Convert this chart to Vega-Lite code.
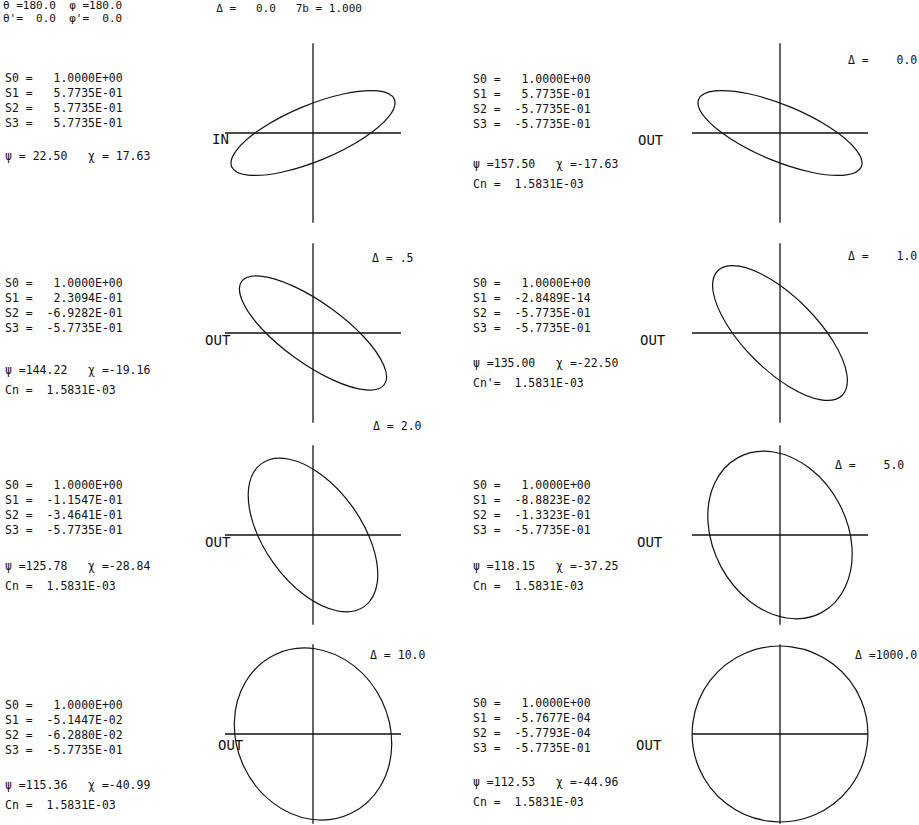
{
  "$schema": "https://vega.github.io/schema/vega-lite/v6.json",
  "background": "white",
  "padding": 0,
  "columns": 2,
  "spacing": {"row": 0, "column": 15},
  "align": "each",
  "bounds": "flush",
  "resolve": {"scale": {"x": "independent", "y": "independent"}},
  "config": {
    "view": {"stroke": null},
    "line": {"stroke": "#111", "strokeWidth": 1.2},
    "rule": {"stroke": "#111", "strokeWidth": 1.3},
    "text": {"font": "DejaVu Sans Mono", "fontSize": 11.5, "color": "#111", "align": "left", "baseline": "alphabetic", "lineBreak": "\n"}
  },
  "datasets": {
    "head": [
      {"angles": "θ\u00a0=180.0\u00a0\u00a0φ\u00a0=180.0\nθ'=\u00a0\u00a00.0\u00a0\u00a0φ'=\u00a0\u00a00.0", "params": "Δ\u00a0=\u00a0\u00a0\u00a00.0\u00a0\u00a0\u00a07b\u00a0=\u00a01.000"}
    ],
    "panels": [
      {"p": 1, "stokes": "S0\u00a0=\u00a0\u00a0\u00a01.0000E+00\nS1\u00a0=\u00a0\u00a0\u00a05.7735E-01\nS2\u00a0=\u00a0\u00a0\u00a05.7735E-01\nS3\u00a0=\u00a0\u00a0\u00a05.7735E-01", "psi": "ψ\u00a0=\u00a022.50\u00a0\u00a0\u00a0χ\u00a0=\u00a017.63", "io": "IN", "delta": ""},
      {"p": 2, "stokes": "S0\u00a0=\u00a0\u00a0\u00a01.0000E+00\nS1\u00a0=\u00a0\u00a0\u00a05.7735E-01\nS2\u00a0=\u00a0\u00a0-5.7735E-01\nS3\u00a0=\u00a0\u00a0-5.7735E-01", "psi": "ψ\u00a0=157.50\u00a0\u00a0\u00a0χ\u00a0=-17.63\nCn\u00a0=\u00a0\u00a01.5831E-03", "io": "OUT", "delta": "Δ\u00a0=\u00a0\u00a0\u00a0\u00a00.0"},
      {"p": 3, "stokes": "S0\u00a0=\u00a0\u00a0\u00a01.0000E+00\nS1\u00a0=\u00a0\u00a0\u00a02.3094E-01\nS2\u00a0=\u00a0\u00a0-6.9282E-01\nS3\u00a0=\u00a0\u00a0-5.7735E-01", "psi": "ψ\u00a0=144.22\u00a0\u00a0\u00a0χ\u00a0=-19.16\nCn\u00a0=\u00a0\u00a01.5831E-03", "io": "OUT", "delta": "Δ\u00a0=\u00a0.5"},
      {"p": 4, "stokes": "S0\u00a0=\u00a0\u00a0\u00a01.0000E+00\nS1\u00a0=\u00a0\u00a0-2.8489E-14\nS2\u00a0=\u00a0\u00a0-5.7735E-01\nS3\u00a0=\u00a0\u00a0-5.7735E-01", "psi": "ψ\u00a0=135.00\u00a0\u00a0\u00a0χ\u00a0=-22.50\nCn'=\u00a0\u00a01.5831E-03", "io": "OUT", "delta": "Δ\u00a0=\u00a0\u00a0\u00a0\u00a01.0"},
      {"p": 5, "stokes": "S0\u00a0=\u00a0\u00a0\u00a01.0000E+00\nS1\u00a0=\u00a0\u00a0-1.1547E-01\nS2\u00a0=\u00a0\u00a0-3.4641E-01\nS3\u00a0=\u00a0\u00a0-5.7735E-01", "psi": "ψ\u00a0=125.78\u00a0\u00a0\u00a0χ\u00a0=-28.84\nCn\u00a0=\u00a0\u00a01.5831E-03", "io": "OUT", "delta": "Δ\u00a0=\u00a02.0"},
      {"p": 6, "stokes": "S0\u00a0=\u00a0\u00a0\u00a01.0000E+00\nS1\u00a0=\u00a0\u00a0-8.8823E-02\nS2\u00a0=\u00a0\u00a0-1.3323E-01\nS3\u00a0=\u00a0\u00a0-5.7735E-01", "psi": "ψ\u00a0=118.15\u00a0\u00a0\u00a0χ\u00a0=-37.25\nCn\u00a0=\u00a0\u00a01.5831E-03", "io": "OUT", "delta": "Δ\u00a0=\u00a0\u00a0\u00a0\u00a05.0"},
      {"p": 7, "stokes": "S0\u00a0=\u00a0\u00a0\u00a01.0000E+00\nS1\u00a0=\u00a0\u00a0-5.1447E-02\nS2\u00a0=\u00a0\u00a0-6.2880E-02\nS3\u00a0=\u00a0\u00a0-5.7735E-01", "psi": "ψ\u00a0=115.36\u00a0\u00a0\u00a0χ\u00a0=-40.99\nCn\u00a0=\u00a0\u00a01.5831E-03", "io": "OUT", "delta": "Δ\u00a0=\u00a010.0"},
      {"p": 8, "stokes": "S0\u00a0=\u00a0\u00a0\u00a01.0000E+00\nS1\u00a0=\u00a0\u00a0-5.7677E-04\nS2\u00a0=\u00a0\u00a0-5.7793E-04\nS3\u00a0=\u00a0\u00a0-5.7735E-01", "psi": "ψ\u00a0=112.53\u00a0\u00a0\u00a0χ\u00a0=-44.96\nCn\u00a0=\u00a0\u00a01.5831E-03", "io": "OUT", "delta": "Δ\u00a0=1000.0"}
    ],
    "ellipse": [
      {"p":1,"i":0,"x":0.924,"y":0.383},{"p":1,"i":1,"x":0.739,"y":0.478},{"p":1,"i":2,"x":0.357,"y":0.446},{"p":1,"i":3,"x":-0.122,"y":0.294},
      {"p":1,"i":4,"x":-0.567,"y":0.063},{"p":1,"i":5,"x":-0.861,"y":-0.185},{"p":1,"i":6,"x":-0.924,"y":-0.383},{"p":1,"i":7,"x":-0.739,"y":-0.478},
      {"p":1,"i":8,"x":-0.357,"y":-0.446},{"p":1,"i":9,"x":0.122,"y":-0.294},{"p":1,"i":10,"x":0.567,"y":-0.063},{"p":1,"i":11,"x":0.861,"y":0.185},

      {"p":2,"i":0,"x":-0.924,"y":0.383},{"p":2,"i":1,"x":-0.861,"y":0.185},{"p":2,"i":2,"x":-0.567,"y":-0.063},{"p":2,"i":3,"x":-0.122,"y":-0.294},
      {"p":2,"i":4,"x":0.357,"y":-0.446},{"p":2,"i":5,"x":0.739,"y":-0.478},{"p":2,"i":6,"x":0.924,"y":-0.383},{"p":2,"i":7,"x":0.861,"y":-0.185},
      {"p":2,"i":8,"x":0.567,"y":0.063},{"p":2,"i":9,"x":0.122,"y":0.294},{"p":2,"i":10,"x":-0.357,"y":0.446},{"p":2,"i":11,"x":-0.739,"y":0.478},

      {"p":3,"i":0,"x":-0.811,"y":0.585},{"p":3,"i":1,"x":-0.804,"y":0.366},{"p":3,"i":2,"x":-0.582,"y":0.048},{"p":3,"i":3,"x":-0.203,"y":-0.282},
      {"p":3,"i":4,"x":0.230,"y":-0.536},{"p":3,"i":5,"x":0.601,"y":-0.647},{"p":3,"i":6,"x":0.811,"y":-0.585},{"p":3,"i":7,"x":0.804,"y":-0.366},
      {"p":3,"i":8,"x":0.582,"y":-0.048},{"p":3,"i":9,"x":0.203,"y":0.282},{"p":3,"i":10,"x":-0.230,"y":0.536},{"p":3,"i":11,"x":-0.601,"y":0.647},

      {"p":4,"i":0,"x":-0.707,"y":0.707},{"p":4,"i":1,"x":-0.759,"y":0.466},{"p":4,"i":2,"x":-0.607,"y":0.100},{"p":4,"i":3,"x":-0.293,"y":-0.293},
      {"p":4,"i":4,"x":0.100,"y":-0.607},{"p":4,"i":5,"x":0.466,"y":-0.759},{"p":4,"i":6,"x":0.707,"y":-0.707},{"p":4,"i":7,"x":0.759,"y":-0.466},
      {"p":4,"i":8,"x":0.607,"y":-0.100},{"p":4,"i":9,"x":0.293,"y":0.293},{"p":4,"i":10,"x":-0.100,"y":0.607},{"p":4,"i":11,"x":-0.466,"y":0.759},

      {"p":5,"i":0,"x":-0.585,"y":0.811},{"p":5,"i":1,"x":-0.730,"y":0.542},{"p":5,"i":2,"x":-0.679,"y":0.127},{"p":5,"i":3,"x":-0.447,"y":-0.322},
      {"p":5,"i":4,"x":-0.095,"y":-0.685},{"p":5,"i":5,"x":0.283,"y":-0.864},{"p":5,"i":6,"x":0.585,"y":-0.811},{"p":5,"i":7,"x":0.730,"y":-0.542},
      {"p":5,"i":8,"x":0.679,"y":-0.127},{"p":5,"i":9,"x":0.447,"y":0.322},{"p":5,"i":10,"x":0.095,"y":0.685},{"p":5,"i":11,"x":-0.283,"y":0.864},

      {"p":6,"i":0,"x":-0.472,"y":0.882},{"p":6,"i":1,"x":-0.744,"y":0.584},{"p":6,"i":2,"x":-0.817,"y":0.130},{"p":6,"i":3,"x":-0.671,"y":-0.359},
      {"p":6,"i":4,"x":-0.345,"y":-0.752},{"p":6,"i":5,"x":0.073,"y":-0.943},{"p":6,"i":6,"x":0.472,"y":-0.882},{"p":6,"i":7,"x":0.744,"y":-0.584},
      {"p":6,"i":8,"x":0.817,"y":-0.130},{"p":6,"i":9,"x":0.671,"y":0.359},{"p":6,"i":10,"x":0.345,"y":0.752},{"p":6,"i":11,"x":-0.073,"y":0.943},

      {"p":7,"i":0,"x":-0.428,"y":0.904},{"p":7,"i":1,"x":-0.764,"y":0.596},{"p":7,"i":2,"x":-0.894,"y":0.130},{"p":7,"i":3,"x":-0.785,"y":-0.372},
      {"p":7,"i":4,"x":-0.466,"y":-0.774},{"p":7,"i":5,"x":-0.022,"y":-0.969},{"p":7,"i":6,"x":0.428,"y":-0.904},{"p":7,"i":7,"x":0.764,"y":-0.596},
      {"p":7,"i":8,"x":0.894,"y":-0.130},{"p":7,"i":9,"x":0.785,"y":0.372},{"p":7,"i":10,"x":0.466,"y":0.774},{"p":7,"i":11,"x":0.022,"y":0.969},

      {"p":8,"i":0,"x":-0.383,"y":0.924},{"p":8,"i":1,"x":-0.793,"y":0.609},{"p":8,"i":2,"x":-0.990,"y":0.130},{"p":8,"i":3,"x":-0.922,"y":-0.383},
      {"p":8,"i":4,"x":-0.607,"y":-0.793},{"p":8,"i":5,"x":-0.129,"y":-0.991},{"p":8,"i":6,"x":0.383,"y":-0.924},{"p":8,"i":7,"x":0.793,"y":-0.609},
      {"p":8,"i":8,"x":0.990,"y":-0.130},{"p":8,"i":9,"x":0.922,"y":0.383},{"p":8,"i":10,"x":0.607,"y":0.793},{"p":8,"i":11,"x":0.129,"y":0.991}
    ]
  },
  "concat": [
    {
      "width": 452, "height": 233,
      "layer": [
        {"data": {"name": "ellipse"}, "transform": [{"filter": "datum.p == 1"}],
         "mark": {"type": "line", "interpolate": "cardinal-closed"},
         "encoding": {
           "x": {"field": "x", "type": "quantitative", "scale": {"domain": [-3.5568, 1.5795], "nice": false, "zero": false}, "axis": null},
           "y": {"field": "y", "type": "quantitative", "scale": {"domain": [-1.1364, 1.5114], "nice": false, "zero": false}, "axis": null},
           "order": {"field": "i", "type": "quantitative"}}},
        {"data": {"values": [{}]}, "mark": "rule", "encoding": {"x": {"datum": -1}, "x2": {"datum": 1}, "y": {"datum": 0}}},
        {"data": {"values": [{}]}, "mark": "rule", "encoding": {"x": {"datum": 0}, "y": {"datum": -1.02}, "y2": {"datum": 1.02}}},
        {"data": {"name": "panels"}, "transform": [{"filter": "datum.p == 1"}], "mark": {"type": "text", "lineHeight": 15},
         "encoding": {"x": {"datum": -3.5}, "y": {"datum": 0.58}, "text": {"field": "stokes"}}},
        {"data": {"name": "panels"}, "transform": [{"filter": "datum.p == 1"}], "mark": {"type": "text", "lineHeight": 20},
         "encoding": {"x": {"datum": -3.5}, "y": {"datum": -0.309}, "text": {"field": "psi"}}},
        {"data": {"name": "panels"}, "transform": [{"filter": "datum.p == 1"}], "mark": {"type": "text", "fontSize": 14},
         "encoding": {"x": {"datum": -1.148}, "y": {"datum": -0.125}, "text": {"field": "io"}}},
        {"data": {"name": "head"}, "mark": {"type": "text", "fontSize": 11, "lineHeight": 13},
         "encoding": {"x": {"datum": -3.523}, "y": {"datum": 1.409}, "text": {"field": "angles"}}},
        {"data": {"name": "head"}, "mark": {"type": "text", "fontSize": 11},
         "encoding": {"x": {"datum": -1.1}, "y": {"datum": 1.37}, "text": {"field": "params"}}}
      ]
    },
    {
      "width": 452, "height": 233,
      "layer": [
        {"data": {"name": "ellipse"}, "transform": [{"filter": "datum.p == 2"}],
         "mark": {"type": "line", "interpolate": "cardinal-closed"},
         "encoding": {
           "x": {"field": "x", "type": "quantitative", "scale": {"domain": [-3.5568, 1.5795], "nice": false, "zero": false}, "axis": null},
           "y": {"field": "y", "type": "quantitative", "scale": {"domain": [-1.1364, 1.5114], "nice": false, "zero": false}, "axis": null},
           "order": {"field": "i", "type": "quantitative"}}},
        {"data": {"values": [{}]}, "mark": "rule", "encoding": {"x": {"datum": -1}, "x2": {"datum": 1}, "y": {"datum": 0}}},
        {"data": {"values": [{}]}, "mark": "rule", "encoding": {"x": {"datum": 0}, "y": {"datum": -1.02}, "y2": {"datum": 1.02}}},
        {"data": {"name": "panels"}, "transform": [{"filter": "datum.p == 2"}], "mark": {"type": "text", "lineHeight": 15},
         "encoding": {"x": {"datum": -3.489}, "y": {"datum": 0.57}, "text": {"field": "stokes"}}},
        {"data": {"name": "panels"}, "transform": [{"filter": "datum.p == 2"}], "mark": {"type": "text", "lineHeight": 20},
         "encoding": {"x": {"datum": -3.489}, "y": {"datum": -0.4}, "text": {"field": "psi"}}},
        {"data": {"name": "panels"}, "transform": [{"filter": "datum.p == 2"}], "mark": {"type": "text", "fontSize": 14},
         "encoding": {"x": {"datum": -1.614}, "y": {"datum": -0.136}, "text": {"field": "io"}}},
        {"data": {"name": "panels"}, "transform": [{"filter": "datum.p == 2"}], "mark": {"type": "text"},
         "encoding": {"x": {"datum": 0.773}, "y": {"datum": 0.782}, "text": {"field": "delta"}}}
      ]
    },
    {
      "width": 452, "height": 200,
      "layer": [
        {"data": {"name": "ellipse"}, "transform": [{"filter": "datum.p == 3"}],
         "mark": {"type": "line", "interpolate": "cardinal-closed"},
         "encoding": {
           "x": {"field": "x", "type": "quantitative", "scale": {"domain": [-3.5568, 1.5795], "nice": false, "zero": false}, "axis": null},
           "y": {"field": "y", "type": "quantitative", "scale": {"domain": [-1.1364, 1.1364], "nice": false, "zero": false}, "axis": null},
           "order": {"field": "i", "type": "quantitative"}}},
        {"data": {"values": [{}]}, "mark": "rule", "encoding": {"x": {"datum": -1}, "x2": {"datum": 1}, "y": {"datum": 0}}},
        {"data": {"values": [{}]}, "mark": "rule", "encoding": {"x": {"datum": 0}, "y": {"datum": -1.02}, "y2": {"datum": 1.02}}},
        {"data": {"name": "panels"}, "transform": [{"filter": "datum.p == 3"}], "mark": {"type": "text", "lineHeight": 15},
         "encoding": {"x": {"datum": -3.5}, "y": {"datum": 0.52}, "text": {"field": "stokes"}}},
        {"data": {"name": "panels"}, "transform": [{"filter": "datum.p == 3"}], "mark": {"type": "text", "lineHeight": 20},
         "encoding": {"x": {"datum": -3.5}, "y": {"datum": -0.468}, "text": {"field": "psi"}}},
        {"data": {"name": "panels"}, "transform": [{"filter": "datum.p == 3"}], "mark": {"type": "text", "fontSize": 14},
         "encoding": {"x": {"datum": -1.227}, "y": {"datum": -0.136}, "text": {"field": "io"}}},
        {"data": {"name": "panels"}, "transform": [{"filter": "datum.p == 3"}], "mark": {"type": "text"},
         "encoding": {"x": {"datum": 0.67}, "y": {"datum": 0.805}, "text": {"field": "delta"}}}
      ]
    },
    {
      "width": 452, "height": 200,
      "layer": [
        {"data": {"name": "ellipse"}, "transform": [{"filter": "datum.p == 4"}],
         "mark": {"type": "line", "interpolate": "cardinal-closed"},
         "encoding": {
           "x": {"field": "x", "type": "quantitative", "scale": {"domain": [-3.5568, 1.5795], "nice": false, "zero": false}, "axis": null},
           "y": {"field": "y", "type": "quantitative", "scale": {"domain": [-1.1364, 1.1364], "nice": false, "zero": false}, "axis": null},
           "order": {"field": "i", "type": "quantitative"}}},
        {"data": {"values": [{}]}, "mark": "rule", "encoding": {"x": {"datum": -1}, "x2": {"datum": 1}, "y": {"datum": 0}}},
        {"data": {"values": [{}]}, "mark": "rule", "encoding": {"x": {"datum": 0}, "y": {"datum": -1.02}, "y2": {"datum": 1.02}}},
        {"data": {"name": "panels"}, "transform": [{"filter": "datum.p == 4"}], "mark": {"type": "text", "lineHeight": 15},
         "encoding": {"x": {"datum": -3.489}, "y": {"datum": 0.52}, "text": {"field": "stokes"}}},
        {"data": {"name": "panels"}, "transform": [{"filter": "datum.p == 4"}], "mark": {"type": "text", "lineHeight": 20},
         "encoding": {"x": {"datum": -3.489}, "y": {"datum": -0.389}, "text": {"field": "psi"}}},
        {"data": {"name": "panels"}, "transform": [{"filter": "datum.p == 4"}], "mark": {"type": "text", "fontSize": 14},
         "encoding": {"x": {"datum": -1.591}, "y": {"datum": -0.136}, "text": {"field": "io"}}},
        {"data": {"name": "panels"}, "transform": [{"filter": "datum.p == 4"}], "mark": {"type": "text"},
         "encoding": {"x": {"datum": 0.773}, "y": {"datum": 0.827}, "text": {"field": "delta"}}}
      ]
    },
    {
      "width": 452, "height": 201,
      "layer": [
        {"data": {"name": "ellipse"}, "transform": [{"filter": "datum.p == 5"}],
         "mark": {"type": "line", "interpolate": "cardinal-closed"},
         "encoding": {
           "x": {"field": "x", "type": "quantitative", "scale": {"domain": [-3.5568, 1.5795], "nice": false, "zero": false}, "axis": null},
           "y": {"field": "y", "type": "quantitative", "scale": {"domain": [-1.125, 1.1591], "nice": false, "zero": false}, "axis": null},
           "order": {"field": "i", "type": "quantitative"}}},
        {"data": {"values": [{}]}, "mark": "rule", "encoding": {"x": {"datum": -1}, "x2": {"datum": 1}, "y": {"datum": 0}}},
        {"data": {"values": [{}]}, "mark": "rule", "encoding": {"x": {"datum": 0}, "y": {"datum": -1.02}, "y2": {"datum": 1.02}}},
        {"data": {"name": "panels"}, "transform": [{"filter": "datum.p == 5"}], "mark": {"type": "text", "lineHeight": 15},
         "encoding": {"x": {"datum": -3.5}, "y": {"datum": 0.52}, "text": {"field": "stokes"}}},
        {"data": {"name": "panels"}, "transform": [{"filter": "datum.p == 5"}], "mark": {"type": "text", "lineHeight": 20},
         "encoding": {"x": {"datum": -3.5}, "y": {"datum": -0.4}, "text": {"field": "psi"}}},
        {"data": {"name": "panels"}, "transform": [{"filter": "datum.p == 5"}], "mark": {"type": "text", "fontSize": 14},
         "encoding": {"x": {"datum": -1.227}, "y": {"datum": -0.136}, "text": {"field": "io"}}},
        {"data": {"name": "panels"}, "transform": [{"filter": "datum.p == 5"}], "mark": {"type": "text"},
         "encoding": {"x": {"datum": 0.682}, "y": {"datum": 1.191}, "text": {"field": "delta"}}}
      ]
    },
    {
      "width": 452, "height": 201,
      "layer": [
        {"data": {"name": "ellipse"}, "transform": [{"filter": "datum.p == 6"}],
         "mark": {"type": "line", "interpolate": "cardinal-closed"},
         "encoding": {
           "x": {"field": "x", "type": "quantitative", "scale": {"domain": [-3.5568, 1.5795], "nice": false, "zero": false}, "axis": null},
           "y": {"field": "y", "type": "quantitative", "scale": {"domain": [-1.125, 1.1591], "nice": false, "zero": false}, "axis": null},
           "order": {"field": "i", "type": "quantitative"}}},
        {"data": {"values": [{}]}, "mark": "rule", "encoding": {"x": {"datum": -1}, "x2": {"datum": 1}, "y": {"datum": 0}}},
        {"data": {"values": [{}]}, "mark": "rule", "encoding": {"x": {"datum": 0}, "y": {"datum": -1.02}, "y2": {"datum": 1.02}}},
        {"data": {"name": "panels"}, "transform": [{"filter": "datum.p == 6"}], "mark": {"type": "text", "lineHeight": 15},
         "encoding": {"x": {"datum": -3.489}, "y": {"datum": 0.52}, "text": {"field": "stokes"}}},
        {"data": {"name": "panels"}, "transform": [{"filter": "datum.p == 6"}], "mark": {"type": "text", "lineHeight": 20},
         "encoding": {"x": {"datum": -3.489}, "y": {"datum": -0.4}, "text": {"field": "psi"}}},
        {"data": {"name": "panels"}, "transform": [{"filter": "datum.p == 6"}], "mark": {"type": "text", "fontSize": 14},
         "encoding": {"x": {"datum": -1.625}, "y": {"datum": -0.136}, "text": {"field": "io"}}},
        {"data": {"name": "panels"}, "transform": [{"filter": "datum.p == 6"}], "mark": {"type": "text"},
         "encoding": {"x": {"datum": 0.625}, "y": {"datum": 0.748}, "text": {"field": "delta"}}}
      ]
    },
    {
      "width": 452, "height": 191,
      "layer": [
        {"data": {"name": "ellipse"}, "transform": [{"filter": "datum.p == 7"}],
         "mark": {"type": "line", "interpolate": "cardinal-closed"},
         "encoding": {
           "x": {"field": "x", "type": "quantitative", "scale": {"domain": [-3.5568, 1.5795], "nice": false, "zero": false}, "axis": null},
           "y": {"field": "y", "type": "quantitative", "scale": {"domain": [-1.0341, 1.1364], "nice": false, "zero": false}, "axis": null},
           "order": {"field": "i", "type": "quantitative"}}},
        {"data": {"values": [{}]}, "mark": "rule", "encoding": {"x": {"datum": -1}, "x2": {"datum": 1}, "y": {"datum": 0}}},
        {"data": {"values": [{}]}, "mark": "rule", "encoding": {"x": {"datum": 0}, "y": {"datum": -1.02}, "y2": {"datum": 1.02}}},
        {"data": {"name": "panels"}, "transform": [{"filter": "datum.p == 7"}], "mark": {"type": "text", "lineHeight": 15},
         "encoding": {"x": {"datum": -3.5}, "y": {"datum": 0.282}, "text": {"field": "stokes"}}},
        {"data": {"name": "panels"}, "transform": [{"filter": "datum.p == 7"}], "mark": {"type": "text", "lineHeight": 20},
         "encoding": {"x": {"datum": -3.5}, "y": {"datum": -0.627}, "text": {"field": "psi"}}},
        {"data": {"name": "panels"}, "transform": [{"filter": "datum.p == 7"}], "mark": {"type": "text", "fontSize": 14},
         "encoding": {"x": {"datum": -1.08}, "y": {"datum": -0.182}, "text": {"field": "io"}}},
        {"data": {"name": "panels"}, "transform": [{"filter": "datum.p == 7"}], "mark": {"type": "text"},
         "encoding": {"x": {"datum": 0.648}, "y": {"datum": 0.85}, "text": {"field": "delta"}}}
      ]
    },
    {
      "width": 452, "height": 191,
      "layer": [
        {"data": {"name": "ellipse"}, "transform": [{"filter": "datum.p == 8"}],
         "mark": {"type": "line", "interpolate": "cardinal-closed"},
         "encoding": {
           "x": {"field": "x", "type": "quantitative", "scale": {"domain": [-3.5568, 1.5795], "nice": false, "zero": false}, "axis": null},
           "y": {"field": "y", "type": "quantitative", "scale": {"domain": [-1.0341, 1.1364], "nice": false, "zero": false}, "axis": null},
           "order": {"field": "i", "type": "quantitative"}}},
        {"data": {"values": [{}]}, "mark": "rule", "encoding": {"x": {"datum": -1}, "x2": {"datum": 1}, "y": {"datum": 0}}},
        {"data": {"values": [{}]}, "mark": "rule", "encoding": {"x": {"datum": 0}, "y": {"datum": -1.02}, "y2": {"datum": 1.02}}},
        {"data": {"name": "panels"}, "transform": [{"filter": "datum.p == 8"}], "mark": {"type": "text", "lineHeight": 15},
         "encoding": {"x": {"datum": -3.489}, "y": {"datum": 0.305}, "text": {"field": "stokes"}}},
        {"data": {"name": "panels"}, "transform": [{"filter": "datum.p == 8"}], "mark": {"type": "text", "lineHeight": 20},
         "encoding": {"x": {"datum": -3.489}, "y": {"datum": -0.593}, "text": {"field": "psi"}}},
        {"data": {"name": "panels"}, "transform": [{"filter": "datum.p == 8"}], "mark": {"type": "text", "fontSize": 14},
         "encoding": {"x": {"datum": -1.636}, "y": {"datum": -0.182}, "text": {"field": "io"}}},
        {"data": {"name": "panels"}, "transform": [{"filter": "datum.p == 8"}], "mark": {"type": "text"},
         "encoding": {"x": {"datum": 0.852}, "y": {"datum": 0.85}, "text": {"field": "delta"}}}
      ]
    }
  ]
}
